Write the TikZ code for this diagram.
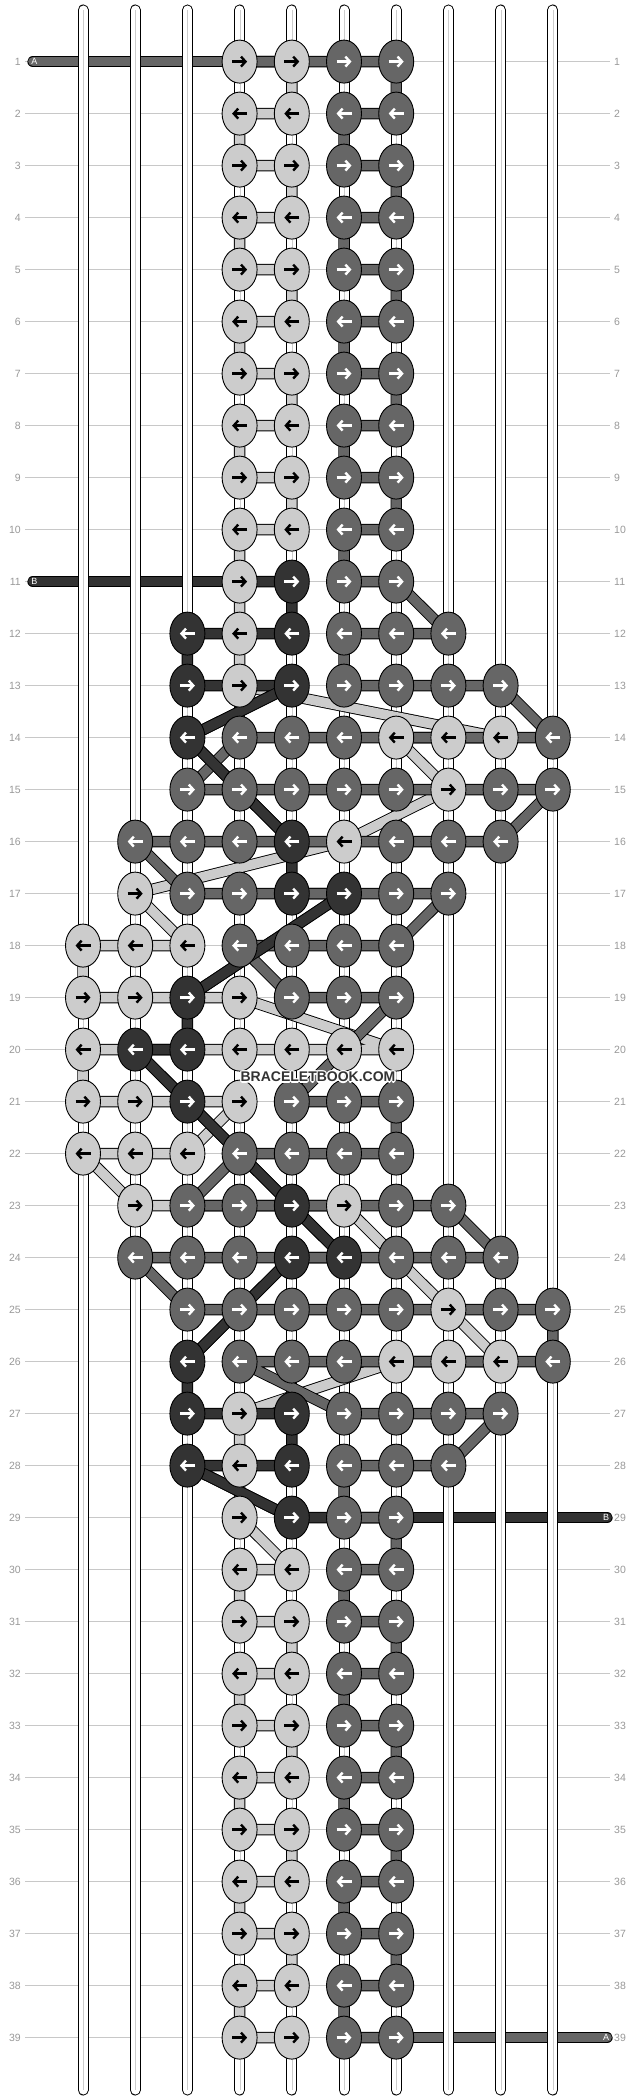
\documentclass[tikz,border=0pt]{standalone}
\usepackage{fontspec}
\setmainfont{Liberation Sans}
\usetikzlibrary{arrows.meta,shapes.geometric}

\definecolor{knotlight}{HTML}{CCCCCC}
\definecolor{knotdark}{HTML}{666666}
\definecolor{knotblack}{HTML}{333333}
\definecolor{rulegray}{HTML}{C8C8C8}
\definecolor{numgray}{HTML}{999999}

% one knot with its arrow, odd rows point right
\newcommand{\tieknot}[3]{%
\node[knot#3] (k-#1-#2) at (g-#1-#2) {};
\ifodd#1\relax
\draw[pointer, pointer#3] ([xshift=-7.5pt]k-#1-#2.center) -- ([xshift=7.5pt]k-#1-#2.center);
\else
\draw[pointer, pointer#3] ([xshift=7.5pt]k-#1-#2.center) -- ([xshift=-7.5pt]k-#1-#2.center);
\fi}

\begin{document}
\begin{tikzpicture}[x=1pt,y=-1pt]

\tikzset{knot/.style = {shape=ellipse, draw, line width=0.9pt, minimum width=35pt, minimum height=43pt, inner sep=0pt}}
\tikzset{knotL/.style = {knot, fill=knotlight}, knotD/.style = {knot, fill=knotdark}, knotB/.style = {knot, fill=knotblack}}
\tikzset{pointer/.style = {line width=2.4pt, -{Straight Barb[length=4.5pt,width=10pt]}}}
\tikzset{pointerL/.style = {black}, pointerD/.style = {white}, pointerB/.style = {white}}
\tikzset{strand/.style = {draw=black, line width=0.9pt, double distance=9.6pt, line join=round}}
\tikzset{strandL/.style = {strand, double=knotlight}, strandD/.style = {strand, double=knotdark}, strandB/.style = {strand, double=knotblack}}
\tikzset{tube/.style = {line width=11pt, line cap=round}}
\tikzset{rowno/.style = {inner sep=0pt, text=numgray, font=\fontsize{10.5}{12}\selectfont}}
\tikzset{tag/.style = {inner sep=0pt, text=white, font=\fontsize{9}{10}\selectfont}}
\tikzset{stamp/.style = {inner sep=0pt, font=\bfseries\fontsize{14}{16}\selectfont}}

\fill[white] (0,0) rectangle (636,2100);

% grid of knot places
\foreach \row in {1,...,39}
\foreach \col in {1,...,10}
\coordinate (g-\row-\col) at ({83+52.2*(\col-1)},{61.6+52*(\row-1)});

% row numbers and rules
\foreach \row in {1,...,39}{
\node[rowno, anchor=east] (nl-\row) at (21,{61.6+52*(\row-1)}) {\row};
\node[rowno, anchor=west] (nr-\row) at (614,{61.6+52*(\row-1)}) {\row};
\draw[rulegray, line width=1.1pt, shorten <=4pt, shorten >=4pt] (nl-\row.east) -- (nr-\row.west);
}

% threads coming in and going out (under the tubes)
\coordinate (a-in) at (33,61.6);
\coordinate (b-in) at (33,581.6);
\coordinate (b-out) at (607,1517.6);
\coordinate (a-out) at (607,2037.6);
\draw[strandD, line cap=round] (a-in) -- (g-1-4);
\draw[strandB, line cap=round] (b-in) -- (g-11-4);
\draw[strandB, line cap=round] (g-29-7) -- (b-out);
\draw[strandD, line cap=round] (g-39-7) -- (a-out);
\node[tag] (a-in-tag) at ([xshift=1.5pt]a-in) {A};
\node[tag] (b-in-tag) at ([xshift=1.5pt]b-in) {B};
\node[tag] (b-out-tag) at ([xshift=-1pt]b-out) {B};
\node[tag] (a-out-tag) at ([xshift=-1pt]a-out) {A};

% tubes
\foreach \col in {1,...,10}{
\coordinate (top-\col) at ({83+52.2*(\col-1)},10);
\coordinate (bot-\col) at ({83+52.2*(\col-1)},2090);
\draw[tube, black] (top-\col) -- (bot-\col);
\draw[tube, white, line width=9pt] (top-\col) -- (bot-\col);
\draw[knotlight, line width=1.1pt] ([xshift=0.5pt]top-\col) -- ([xshift=0.5pt]bot-\col);
}

% light thread
\draw[strandL] (g-1-4)
\foreach \row [evaluate=\row as \nrow using int(\row+1)] in {1,3,...,9} { -- (g-\row-4) -- (g-\row-5) -- (g-\nrow-5) -- (g-\nrow-4) }
-- (g-11-4) -- (g-13-4) -- (g-14-9) -- (g-14-7) -- (g-15-8) -- (g-16-6) -- (g-17-2) -- (g-18-3) -- (g-18-1)
-- (g-19-1) -- (g-19-4) -- (g-20-7) -- (g-20-1) -- (g-21-1) -- (g-21-4) -- (g-22-3) -- (g-22-1) -- (g-23-2)
-- (g-23-6) -- (g-25-8) -- (g-26-9) -- (g-26-7) -- (g-27-4) -- (g-29-4) -- (g-30-5)
\foreach \row [evaluate=\row as \nrow using int(\row+1)] in {30,32,...,38} { -- (g-\row-5) -- (g-\row-4) -- (g-\nrow-4) -- (g-\nrow-5) };

% thread B
\draw[strandB] (g-11-4) -- (g-11-5) -- (g-12-5) -- (g-12-3) -- (g-13-3) -- (g-13-5) -- (g-14-3) -- (g-16-5)
-- (g-17-5) -- (g-17-6) -- (g-19-3) -- (g-20-3) -- (g-20-2) -- (g-21-3) -- (g-23-5) -- (g-24-6) -- (g-24-5)
-- (g-26-3) -- (g-27-3) -- (g-27-5) -- (g-28-5) -- (g-28-3) -- (g-29-5) -- (g-29-7);

% thread A
\draw[strandD] (g-1-4)
\foreach \row [evaluate=\row as \nrow using int(\row+1)] in {1,3,...,9} { -- (g-\row-6) -- (g-\row-7) -- (g-\nrow-7) -- (g-\nrow-6) }
-- (g-11-6) -- (g-11-7) -- (g-12-8) -- (g-12-6) -- (g-13-6) -- (g-13-9) -- (g-14-10) -- (g-14-4) -- (g-15-3)
-- (g-15-10) -- (g-16-9) -- (g-16-2) -- (g-17-3) -- (g-17-8) -- (g-18-7) -- (g-18-4) -- (g-19-5) -- (g-19-7)
-- (g-21-5) -- (g-21-7) -- (g-22-7) -- (g-22-4) -- (g-23-3) -- (g-23-8) -- (g-24-9) -- (g-24-2) -- (g-25-3)
-- (g-25-10) -- (g-26-10) -- (g-26-4) -- (g-27-6) -- (g-27-9) -- (g-28-8) -- (g-28-6) -- (g-29-6) -- (g-29-7)
\foreach \row [evaluate=\row as \nrow using int(\row+1)] in {30,32,...,38} { -- (g-\row-7) -- (g-\row-6) -- (g-\nrow-6) -- (g-\nrow-7) };

% B diagonals lie on top
\draw[strandB] (g-13-5) -- (g-14-3) -- (g-16-5);
\draw[strandB] (g-17-6) -- (g-19-3);
\draw[strandB] (g-20-2) -- (g-21-3) -- (g-23-5) -- (g-24-6);
\draw[strandB] (g-24-5) -- (g-26-3);
\draw[strandB] (g-28-3) -- (g-29-5);

% knots
\foreach \row in {1,...,10,30,31,...,39}
\foreach \col/\clr in {4/L,5/L,6/D,7/D}
\tieknot{\row}{\col}{\clr};

\foreach \row/\knots in {
11/{4/L,5/B,6/D,7/D},
12/{3/B,4/L,5/B,6/D,7/D,8/D},
13/{3/B,4/L,5/B,6/D,7/D,8/D,9/D},
14/{3/B,4/D,5/D,6/D,7/L,8/L,9/L,10/D},
15/{3/D,4/D,5/D,6/D,7/D,8/L,9/D,10/D},
16/{2/D,3/D,4/D,5/B,6/L,7/D,8/D,9/D},
17/{2/L,3/D,4/D,5/B,6/B,7/D,8/D},
18/{1/L,2/L,3/L,4/D,5/D,6/D,7/D},
19/{1/L,2/L,3/B,4/L,5/D,6/D,7/D},
20/{1/L,2/B,3/B,4/L,5/L,6/L,7/L},
21/{1/L,2/L,3/B,4/L,5/D,6/D,7/D},
22/{1/L,2/L,3/L,4/D,5/D,6/D,7/D},
23/{2/L,3/D,4/D,5/B,6/L,7/D,8/D},
24/{2/D,3/D,4/D,5/B,6/B,7/D,8/D,9/D},
25/{3/D,4/D,5/D,6/D,7/D,8/L,9/D,10/D},
26/{3/B,4/D,5/D,6/D,7/L,8/L,9/L,10/D},
27/{3/B,4/L,5/B,6/D,7/D,8/D,9/D},
28/{3/B,4/L,5/B,6/D,7/D,8/D},
29/{4/L,5/B,6/D,7/D}}
\foreach \col/\clr in \knots
\tieknot{\row}{\col}{\clr};

% watermark with white rim
\coordinate (wm-pos) at (318,1077);
\foreach \dx/\dy [count=\i] in {1.3/0,-1.3/0,0/1.3,0/-1.3,0.9/0.9,-0.9/0.9,0.9/-0.9,-0.9/-0.9}
\node[stamp, text=white] (wm-halo-\i) at ([xshift=\dx pt,yshift=\dy pt]wm-pos) {BRACELETBOOK.COM};
\node[stamp, text=knotblack] (wm) at (wm-pos) {BRACELETBOOK.COM};

\end{tikzpicture}
\end{document}
